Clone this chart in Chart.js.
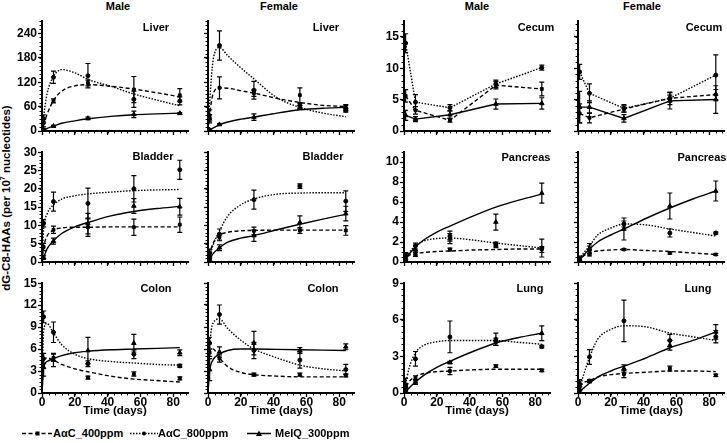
<!DOCTYPE html>
<html lang="en">
<head>
<meta charset="utf-8">
<title>dG-C8-HAAs over time</title>
<script src="https://cdn.jsdelivr.net/npm/chart.js@4.4.4/dist/chart.umd.min.js"></script>
<style>
  html, body { margin: 0; padding: 0; background: #fff; overflow: hidden; }
  #fig { position: relative; width: 727px; height: 443px; overflow: hidden;
         font-family: "Liberation Sans", Arial, sans-serif; font-weight: bold; color: #000; }
  #fig canvas { position: absolute; }
  .txt { position: absolute; white-space: nowrap; line-height: 1; font-size: 11px; transform: translate(-50%, -50%); }
  #ytitle { position: absolute; left: 6px; top: 198px; font-size: 11.5px; white-space: nowrap; line-height: 1;
            transform: translate(-50%, -50%) rotate(-90deg); }
  .leg { position: absolute; top: 433px; transform: translateY(-50%); font-size: 11px; line-height: 1; white-space: nowrap; }
  .leg svg { vertical-align: middle; }
</style>
</head>
<body>
<div id="fig">
  <div id="ytitle">dG-C8-HAAs (per 10<sup style="font-size:7px">7</sup> nucleotides)</div>
</div>
<script>
const sampleDays = [1, 7, 28, 56, 84];
const fitDays = [0, 1, 3, 7, 12, 20, 28, 42, 56, 70, 84];
const seriesNames = ['AαC_400ppm', 'AαC_800ppm', 'MeIQ_300ppm'];
const sexes = ['Male', 'Female', 'Male', 'Female'];
const organs = ['Liver', 'Cecum', 'Bladder', 'Pancreas', 'Colon', 'Lung'];
const yTop = [270, 17.5, 30, 11, 15, 9];
const yStep = [60, 5, 5, 2, 3, 3];
const yMinor = [10, 1, 1, 0.5, 0.5, 0.5];
const xMax = 89;
const xStep = 20;
const xMinor = 4;

// every array below: [AαC_400ppm, AαC_800ppm, MeIQ_300ppm]
const liverMaleMean = [[20, 74, 118, 102, 88], [30, 132, 136, 78, 74], [3, 12, 31, 41, 43.5]];
const liverMaleErr  = [[10, 5, 7, 32, 16], [10, 15, 30, 20, 10], [2, 2, 3, 8, 2]];
const liverMaleFit  = [[0, 15, 40, 75, 98, 111, 114, 110, 103, 94, 84],
                       [0, 35, 90, 134, 151, 143, 127, 110, 91, 76, 62],
                       [0, 2, 6, 12, 19, 25, 30, 36, 40, 42, 44]];

const liverFemaleMean = [[38, 106, 93, 88, 57], [30, 210, 100, 62, 51], [3, 16, 34, 58, 57]];
const liverFemaleErr  = [[14, 27, 8, 18, 8], [10, 36, 22, 6, 5], [2, 2, 8, 5, 6]];
const liverFemaleFit  = [[0, 40, 90, 106, 105, 99, 93, 80, 70, 63, 60],
                         [0, 70, 170, 205, 185, 155, 128, 82, 58, 44, 35],
                         [0, 2, 7, 15, 22, 29, 34, 44, 52, 56, 58]];

const cecumMaleMean = [[5.6, 3.3, 1.7, 7.3, 6.7], [14, 4.6, 3.7, 7.5, 10.1], [2.5, 1.9, 2.6, 4.3, 4.4]];
const cecumMaleErr  = [[1, 0.6, 0.3, 0.6, 1.1], [1.5, 1.2, 0.5, 0.6, 0.4], [0.8, 0.4, 0.6, 0.8, 0.9]];

const cecumFemaleMean = [[2.8, 2.1, 3.5, 5.2, 5.8], [9.4, 6.0, 3.6, 5.2, 8.9], [3.8, 3.8, 2.0, 4.8, 5.0]];
const cecumFemaleErr  = [[1.5, 0.8, 0.5, 0.5, 0.8], [1.2, 1.5, 0.6, 1.0, 3.2], [2.5, 1.0, 0.6, 1.3, 2.2]];

const bladderMaleMean = [[4.1, 8.8, 9.5, 9.5, 10.2], [10.6, 16.5, 16, 20, 25.2], [1.2, 5.7, 10.5, 15.3, 15.1]];
const bladderMaleErr  = [[1, 1, 2.5, 2.2, 2.1], [1, 2.6, 4.2, 3.6, 2.6], [0.5, 0.8, 2.8, 2, 2.3]];
const bladderMaleFit  = [[0, 4, 7, 8.7, 9.3, 9.5, 9.5, 9.6, 9.6, 9.6, 9.6],
                         [0, 9, 13, 15.6, 17.2, 18.1, 18.6, 19.1, 19.5, 19.7, 19.8],
                         [0, 1.2, 3.5, 5.8, 7.8, 9.6, 10.8, 12.6, 13.8, 14.6, 15.2]];

const bladderFemaleMean = [[1.8, 6.8, 8.5, 8.6, 8.6], [2.5, 7.5, 17, 20.7, 16.6], [0.8, 3.9, 7.2, 10.8, 13.2]];
const bladderFemaleErr  = [[0.8, 1, 1, 0.8, 1.3], [1, 1.5, 2.6, 0.6, 2.8], [0.5, 0.8, 1.6, 1.8, 2]];
const bladderFemaleFit  = [[0, 2, 5, 7.3, 8.1, 8.5, 8.6, 8.7, 8.7, 8.7, 8.7],
                           [0, 1.5, 4.5, 8.5, 12.5, 15.6, 17.2, 18.5, 18.8, 18.9, 18.9],
                           [0, 0.8, 2.2, 3.9, 5.4, 6.5, 7.2, 8.8, 10.3, 11.7, 13.0]];

const pancreasMaleMean = [[0.6, 0.75, 1.25, 1.65, 1.25], [0.75, 1.6, 2.6, 1.8, 1.4], [0.35, 1.2, 2.35, 4.0, 6.9]];
const pancreasMaleErr  = [[0.3, 0.2, 0.15, 0.2, 0.3], [0.2, 0.3, 0.5, 0.2, 0.9], [0.2, 0.5, 0.5, 0.8, 1]];
const pancreasMaleFit  = [[0, 0.4, 0.65, 0.85, 0.95, 1.05, 1.1, 1.2, 1.25, 1.3, 1.3],
                          [0, 0.35, 0.9, 1.6, 2.1, 2.35, 2.4, 2.2, 1.9, 1.65, 1.4],
                          [0, 0.25, 0.75, 1.5, 2.2, 3.0, 3.6, 4.6, 5.5, 6.2, 6.8]];

const pancreasFemaleMean = [[0.4, 0.75, 1.25, 0.9, 0.75], [0.3, 1.2, 3.8, 2.9, 2.9], [0.25, 1.35, 3.3, 5.6, 7.1]];
const pancreasFemaleErr  = [[0.2, 0.15, 0.1, 0.1, 0.1], [0.2, 0.4, 0.3, 0.4, 0.1], [0.2, 0.5, 1.1, 1.3, 1]];
const pancreasFemaleFit  = [[0, 0.2, 0.55, 0.9, 1.1, 1.2, 1.25, 1.15, 1.05, 0.9, 0.75],
                            [0, 0.3, 0.8, 1.6, 2.7, 3.4, 3.8, 3.7, 3.3, 2.95, 2.6],
                            [0, 0.2, 0.6, 1.3, 2.0, 2.7, 3.3, 4.4, 5.4, 6.3, 7.1]];

const colonMaleMean = [[4.7, 4.8, 2.1, 2.6, 2.0], [10.4, 8.3, 4.0, 5.3, 3.7], [3.5, 4.5, 5.8, 6.8, 5.5]];
const colonMaleErr  = [[0.7, 0.5, 0.2, 0.3, 0.2], [0.8, 1.4, 0.4, 0.6, 0.2], [1.2, 0.9, 1.8, 1.2, 0.4]];
const colonMaleFit  = [[0, 4.2, 4.8, 4.5, 3.9, 3.3, 2.9, 2.3, 1.9, 1.7, 1.5],
                       [0, 8.5, 9.5, 8.2, 6.6, 5.3, 4.7, 4.3, 4.1, 3.9, 3.8],
                       [0, 3.5, 4.3, 4.7, 5.1, 5.5, 5.7, 5.9, 6.0, 6.1, 6.2]];

const colonFemaleMean = [[5.5, 4.7, 2.5, 2.5, 2.4], [6.8, 10.7, 5.8, 4.5, 3.2], [3.2, 5.6, 6.8, 5.8, 6.3]];
const colonFemaleErr  = [[0.5, 0.5, 0.2, 0.2, 0.2], [0.8, 1.3, 1.1, 1.1, 0.7], [1.5, 0.7, 1.6, 0.4, 0.4]];
const colonFemaleFit  = [[0, 5.5, 6.0, 4.8, 3.6, 2.8, 2.5, 2.3, 2.2, 2.2, 2.2],
                         [0, 6.0, 9.5, 10.1, 8.8, 7.2, 6.0, 4.8, 3.8, 3.3, 3.0],
                         [0, 3.0, 4.5, 5.3, 5.8, 6.0, 6.0, 5.95, 5.9, 5.85, 5.8]];

const lungMaleMean = [[0.6, 1.2, 1.8, 2.2, 1.85], [0.5, 2.8, 4.6, 4.2, 3.8], [0.2, 0.9, 2.5, 4.4, 4.9]];
const lungMaleErr  = [[0.6, 0.2, 0.3, 0.1, 0.1], [0.3, 0.6, 1.3, 0.3, 0.1], [0.2, 0.2, 0.1, 0.5, 0.6]];
const lungMaleFit  = [[0, 0.35, 0.9, 1.35, 1.6, 1.75, 1.8, 1.9, 1.95, 1.95, 1.95],
                      [0, 0.7, 2.0, 3.3, 3.9, 4.2, 4.3, 4.3, 4.3, 4.15, 4.0],
                      [0, 0.15, 0.4, 0.9, 1.45, 2.1, 2.6, 3.4, 4.1, 4.55, 4.9]];

const lungFemaleMean = [[0.8, 1.0, 1.55, 2.0, 1.45], [0.7, 2.95, 5.9, 4.3, 4.6], [0.3, 0.95, 2.0, 3.9, 5.0]];
const lungFemaleErr  = [[0.3, 0.1, 0.3, 0.2, 0.1], [0.4, 0.6, 1.7, 0.5, 0.5], [0.2, 0.1, 0.3, 0.4, 0.6]];
const lungFemaleFit  = [[0, 0.35, 0.8, 1.0, 1.3, 1.5, 1.6, 1.7, 1.8, 1.8, 1.75],
                        [0, 0.4, 1.3, 2.9, 4.4, 5.2, 5.5, 5.4, 4.9, 4.6, 4.3],
                        [0, 0.1, 0.35, 0.8, 1.3, 1.8, 2.2, 2.9, 3.7, 4.3, 5.0]];

// reading order: row by row, Male/Female left block then right block
const panels = [
  [liverMaleMean, liverMaleErr, liverMaleFit], [liverFemaleMean, liverFemaleErr, liverFemaleFit],
  [cecumMaleMean, cecumMaleErr, null], [cecumFemaleMean, cecumFemaleErr, null],
  [bladderMaleMean, bladderMaleErr, bladderMaleFit], [bladderFemaleMean, bladderFemaleErr, bladderFemaleFit],
  [pancreasMaleMean, pancreasMaleErr, pancreasMaleFit], [pancreasFemaleMean, pancreasFemaleErr, pancreasFemaleFit],
  [colonMaleMean, colonMaleErr, colonMaleFit], [colonFemaleMean, colonFemaleErr, colonFemaleFit],
  [lungMaleMean, lungMaleErr, lungMaleFit], [lungFemaleMean, lungFemaleErr, lungFemaleFit],
];

// layout
const colLeft = [42, 208, 404, 578];
const rowTop = [21, 152, 283];
const AREA_W = 146, AREA_H = 110, Y_AXIS_W = 40, PAD_TOP = 8, PAD_RIGHT = 6;
const headPos = [[118, 6], [279, 6], [477, 6], [642, 6]];
const organPos = [[156, 27], [326, 27], [536, 27], [704, 27],
                  [153, 156], [323, 156], [526, 157], [702, 157],
                  [156, 288], [323, 288], [530, 288], [698, 288]];
const seriesStyle = [
  { dash: [4, 2.5], point: 'rect', radius: 2 },
  { dash: [1.5, 1.5], point: 'circle', radius: 2 },
  { dash: [], point: 'triangle', radius: 2.6 },
];

Chart.defaults.font.family = '"Liberation Sans", Arial, sans-serif';
Chart.defaults.font.weight = 'bold';
Chart.defaults.color = '#000';

const errorBars = {
  id: 'errorBars',
  afterDatasetsDraw(chart) {
    const { ctx, scales: { x, y } } = chart;
    ctx.save();
    ctx.strokeStyle = '#000';
    ctx.lineWidth = 1.2;
    for (const ds of chart.data.datasets) {
      if (!ds.errors) continue;
      ds.data.forEach((pt, i) => {
        const px = x.getPixelForValue(pt.x);
        const hi = y.getPixelForValue(pt.y + ds.errors[i]);
        const lo = y.getPixelForValue(Math.max(pt.y - ds.errors[i], y.min));
        ctx.beginPath();
        ctx.moveTo(px, hi); ctx.lineTo(px, lo);
        ctx.moveTo(px - 2.5, hi); ctx.lineTo(px + 2.5, hi);
        ctx.moveTo(px - 2.5, lo); ctx.lineTo(px + 2.5, lo);
        ctx.stroke();
      });
    }
    ctx.restore();
  }
};

const minorTicks = {
  id: 'minorTicks',
  afterDraw(chart, args, opts) {
    const { ctx, chartArea, scales: { x, y } } = chart;
    ctx.save();
    ctx.strokeStyle = '#000';
    ctx.lineWidth = 1;
    ctx.beginPath();
    const nx = Math.floor((x.max - x.min) / opts.xStep + 1e-9);
    for (let i = 0; i <= nx; i++) {
      const px = Math.round(x.getPixelForValue(x.min + i * opts.xStep)) + 0.5;
      ctx.moveTo(px, chartArea.bottom); ctx.lineTo(px, chartArea.bottom + 2.5);
    }
    const ny = Math.floor((y.max - y.min) / opts.yStep + 1e-9);
    for (let i = 0; i <= ny; i++) {
      const py = Math.round(y.getPixelForValue(y.min + i * opts.yStep)) + 0.5;
      ctx.moveTo(chartArea.left - 2.5, py); ctx.lineTo(chartArea.left, py);
    }
    ctx.stroke();
    ctx.restore();
  }
};

const fig = document.getElementById('fig');

function addText(text, x, y) {
  const el = document.createElement('div');
  el.className = 'txt';
  el.textContent = text;
  el.style.left = x + 'px';
  el.style.top = y + 'px';
  fig.appendChild(el);
}

sexes.forEach((s, i) => addText(s, headPos[i][0], headPos[i][1]));

panels.forEach(([mean, err, fit], i) => {
  const row = Math.floor(i / 4), col = i % 4;
  const organ = row * 2 + (col >= 2 ? 1 : 0);
  const bottomRow = row === 2;
  const xAxisH = bottomRow ? 25 : 10;
  const w = Y_AXIS_W + AREA_W + PAD_RIGHT, h = PAD_TOP + AREA_H + xAxisH;

  const canvas = document.createElement('canvas');
  canvas.width = w; canvas.height = h;
  canvas.style.left = (colLeft[col] - Y_AXIS_W) + 'px';
  canvas.style.top = (rowTop[row] - PAD_TOP) + 'px';
  canvas.style.width = w + 'px'; canvas.style.height = h + 'px';
  fig.appendChild(canvas);

  const datasets = [];
  seriesNames.forEach((name, s) => {
    const st = seriesStyle[s];
    const points = sampleDays.map((d, k) => ({ x: d, y: mean[s][k] }));
    const curve = fit ? fitDays.map((d, k) => ({ x: d, y: fit[s][k] })) : points;
    datasets.push({
      label: name, data: curve, borderColor: '#000', borderWidth: 1.4, borderDash: st.dash,
      pointRadius: 0, fill: false, tension: 0,
      cubicInterpolationMode: fit ? 'monotone' : 'default'
    });
    datasets.push({
      label: name, data: points, errors: err[s], showLine: false,
      pointStyle: st.point, pointRadius: st.radius,
      pointBackgroundColor: '#000', pointBorderColor: '#000', pointBorderWidth: 1
    });
  });

  const gridOpts = { drawOnChartArea: false, drawTicks: true, tickLength: 4, tickWidth: 1.3, tickColor: '#000' };
  new Chart(canvas, {
    type: 'line',
    data: { datasets },
    options: {
      responsive: false,
      animation: false,
      layout: { padding: { top: PAD_TOP, right: PAD_RIGHT, left: 0, bottom: 0 } },
      plugins: {
        legend: { display: false },
        tooltip: { enabled: false },
        minorTicks: { xStep: xMinor, yStep: yMinor[organ] }
      },
      scales: {
        x: {
          type: 'linear', min: 0, max: xMax,
          border: { color: '#000', width: 2 },
          grid: gridOpts,
          ticks: { display: bottomRow, stepSize: xStep, includeBounds: false, padding: -2,
                   maxRotation: 0, autoSkip: false, font: { size: 12, weight: 'bold' } },
          title: { display: bottomRow, text: 'Time (days)', padding: 0, font: { size: 11.5, weight: 'bold' } },
          afterFit: sc => { sc.height = xAxisH; }
        },
        y: {
          type: 'linear', min: 0, max: yTop[organ],
          border: { color: '#000', width: 2 },
          grid: gridOpts,
          ticks: { display: col % 2 === 0, stepSize: yStep[organ], includeBounds: false, padding: 1,
                   font: { size: 12, weight: 'bold' } },
          afterFit: sc => { sc.width = Y_AXIS_W; }
        }
      }
    },
    plugins: [errorBars, minorTicks]
  });

  addText(organs[organ], organPos[i][0], organPos[i][1]);
});

// legend
const legendLeft = [22, 130, 247];
const legendLineW = [31, 28, 24];
const legendGap = [0, 0, 4];
seriesNames.forEach((name, s) => {
  const st = seriesStyle[s];
  const lw = legendLineW[s], mid = lw / 2;
  let marker;
  if (st.point === 'rect') marker = `<rect x="${mid - 2}" y="2" width="4" height="4" fill="#000"/>`;
  else if (st.point === 'circle') marker = `<circle cx="${mid}" cy="4" r="2" fill="#000"/>`;
  else marker = `<polygon points="${mid},1 ${mid - 3},6.5 ${mid + 3},6.5" fill="#000"/>`;
  const el = document.createElement('div');
  el.className = 'leg';
  el.style.left = legendLeft[s] + 'px';
  el.innerHTML = `<svg width="${lw}" height="8" style="margin-right:${legendGap[s]}px">` +
    `<line x1="0" y1="4" x2="${lw}" y2="4" stroke="#000" stroke-width="1.3" stroke-dasharray="${st.dash.join(' ') || 'none'}"/>` +
    marker + `</svg><span></span>`;
  el.querySelector('span').textContent = name;
  fig.appendChild(el);
});
</script>
</body>
</html>
